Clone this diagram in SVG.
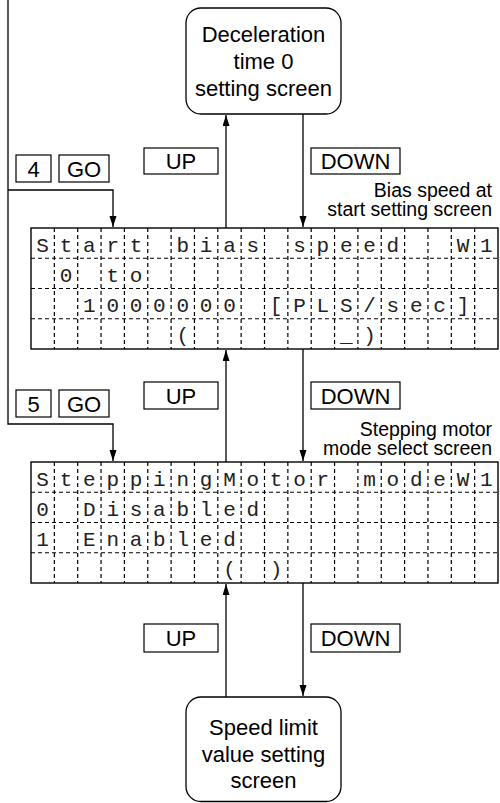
<svg xmlns="http://www.w3.org/2000/svg" width="500" height="803" viewBox="0 0 500 803">
<style>
.box{fill:#fff;stroke:#000;stroke-width:1.3}
.lbl{fill:#fff;stroke:#000;stroke-width:1.2}
.t{font-family:"Liberation Sans",Arial,sans-serif;fill:#000}
.big{font-size:22px;text-anchor:middle}
.key{font-size:22px;text-anchor:middle}
.cap{font-size:19.5px;text-anchor:end}
.con{fill:none;stroke:#000;stroke-width:1.3}
.lcd{fill:#fff;stroke:#000;stroke-width:1.4}
.grid{fill:none;stroke:#000;stroke-width:1.2;stroke-dasharray:4 3}
.m{font-family:"Liberation Mono","Courier New",monospace;font-size:21px;white-space:pre;fill:#222;text-anchor:middle}
</style>
<defs>
<marker id="ah" markerUnits="userSpaceOnUse" markerWidth="11" markerHeight="8" refX="11" refY="3.5" orient="auto">
<path d="M0,0 L11,3.5 L0,7 z" fill="#000"/>
</marker>
</defs>

<g id="connectors">
<path class="con" d="M8,0 V424 H113 V461" marker-end="url(#ah)"/>
<path class="con" d="M8,190 H113 V227" marker-end="url(#ah)"/>
<path class="con" d="M226,228 V115" marker-end="url(#ah)"/>
<path class="con" d="M303,114 V227" marker-end="url(#ah)"/>
<path class="con" d="M226,462 V350" marker-end="url(#ah)"/>
<path class="con" d="M303,349 V461" marker-end="url(#ah)"/>
<path class="con" d="M226,697 V584" marker-end="url(#ah)"/>
<path class="con" d="M303,583 V696" marker-end="url(#ah)"/>
</g>

<g id="decel-screen">
<rect class="box" x="186" y="8" width="155" height="106" rx="15"/>
<text class="t big" x="263.5" y="42">Deceleration</text>
<text class="t big" x="263.5" y="69">time 0</text>
<text class="t big" x="263.5" y="96">setting screen</text>
</g>

<g id="keys-top">
<rect class="lbl" x="16" y="155" width="35" height="27"/>
<text class="t key" x="33.5" y="176.5">4</text>
<rect class="lbl" x="59" y="155" width="50" height="27"/>
<text class="t key" x="84" y="176.5">GO</text>
<rect class="lbl" x="144" y="148" width="74" height="26"/>
<text class="t key" x="181" y="169">UP</text>
<rect class="lbl" x="311" y="148" width="89" height="26"/>
<text class="t key" x="355.5" y="169">DOWN</text>
<text class="t cap" x="492" y="196.5">Bias speed at</text>
<text class="t cap" x="492" y="216">start setting screen</text>
</g>

<g id="bias-speed-screen">
<rect class="lcd" x="31" y="228" width="467" height="121"/>
<path class="grid" d="M31,258.25 H498 M31,288.5 H498 M31,318.75 H498
M54.35,228 V349 M77.7,228 V349 M101.05,228 V349 M124.4,228 V349 M147.75,228 V349 M171.1,228 V349 M194.45,228 V349 M217.8,228 V349 M241.15,228 V349 M264.5,228 V349 M287.85,228 V349 M311.2,228 V349 M334.55,228 V349 M357.9,228 V349 M381.25,228 V349 M404.6,228 V349 M427.95,228 V349 M451.3,228 V349 M474.65,228 V349"/>
<text class="m" xml:space="preserve" x="42.675 66.025 89.375 112.725 136.075 159.425 182.775 206.125 229.475 252.825 276.175 299.525 322.875 346.225 369.575 392.925 416.275 439.625 462.975 486.325" y="251.5">Start bias speed  W1</text>
<text class="m" xml:space="preserve" x="42.675 66.025 89.375 112.725 136.075" y="281.75"> 0 to</text>
<text class="m" xml:space="preserve" x="42.675 66.025 89.375 112.725 136.075 159.425 182.775 206.125 229.475 252.825 276.175 299.525 322.875 346.225 369.575 392.925 416.275 439.625 462.975" y="312">  1000000 [PLS/sec]</text>
<text class="m" xml:space="preserve" x="42.675 66.025 89.375 112.725 136.075 159.425 182.775 206.125 229.475 252.825 276.175 299.525 322.875 346.225 369.575" y="342.25">      (      _)</text>
</g>

<g id="keys-mid">
<rect class="lbl" x="16" y="390" width="35" height="27"/>
<text class="t key" x="33.5" y="411.5">5</text>
<rect class="lbl" x="59" y="390" width="50" height="27"/>
<text class="t key" x="84" y="411.5">GO</text>
<rect class="lbl" x="144" y="382" width="74" height="27"/>
<text class="t key" x="181" y="403.5">UP</text>
<rect class="lbl" x="311" y="382" width="89" height="27"/>
<text class="t key" x="355.5" y="403.5">DOWN</text>
<text class="t cap" x="492" y="436">Stepping motor</text>
<text class="t cap" x="492" y="455">mode select screen</text>
</g>

<g id="stepping-motor-screen">
<rect class="lcd" x="31" y="462" width="467" height="121"/>
<path class="grid" d="M31,492.25 H498 M31,522.5 H498 M31,552.75 H498
M54.35,462 V583 M77.7,462 V583 M101.05,462 V583 M124.4,462 V583 M147.75,462 V583 M171.1,462 V583 M194.45,462 V583 M217.8,462 V583 M241.15,462 V583 M264.5,462 V583 M287.85,462 V583 M311.2,462 V583 M334.55,462 V583 M357.9,462 V583 M381.25,462 V583 M404.6,462 V583 M427.95,462 V583 M451.3,462 V583 M474.65,462 V583"/>
<text class="m" xml:space="preserve" x="42.675 66.025 89.375 112.725 136.075 159.425 182.775 206.125 229.475 252.825 276.175 299.525 322.875 346.225 369.575 392.925 416.275 439.625 462.975 486.325" y="485.5">SteppingMotor modeW1</text>
<text class="m" xml:space="preserve" x="42.675 66.025 89.375 112.725 136.075 159.425 182.775 206.125 229.475 252.825" y="515.75">0 Disabled</text>
<text class="m" xml:space="preserve" x="42.675 66.025 89.375 112.725 136.075 159.425 182.775 206.125 229.475" y="546">1 Enabled</text>
<text class="m" xml:space="preserve" x="42.675 66.025 89.375 112.725 136.075 159.425 182.775 206.125 229.475 252.825 276.175" y="576.25">        ( )</text>
</g>

<g id="keys-bottom">
<rect class="lbl" x="144" y="624" width="74" height="28"/>
<text class="t key" x="181" y="646">UP</text>
<rect class="lbl" x="311" y="624" width="89" height="28"/>
<text class="t key" x="355.5" y="646">DOWN</text>
</g>

<g id="speed-limit-screen">
<rect class="box" x="186" y="697" width="155" height="104.5" rx="15"/>
<text class="t big" x="263.5" y="735">Speed limit</text>
<text class="t big" x="263.5" y="762">value setting</text>
<text class="t big" x="263.5" y="788">screen</text>
</g>
</svg>
